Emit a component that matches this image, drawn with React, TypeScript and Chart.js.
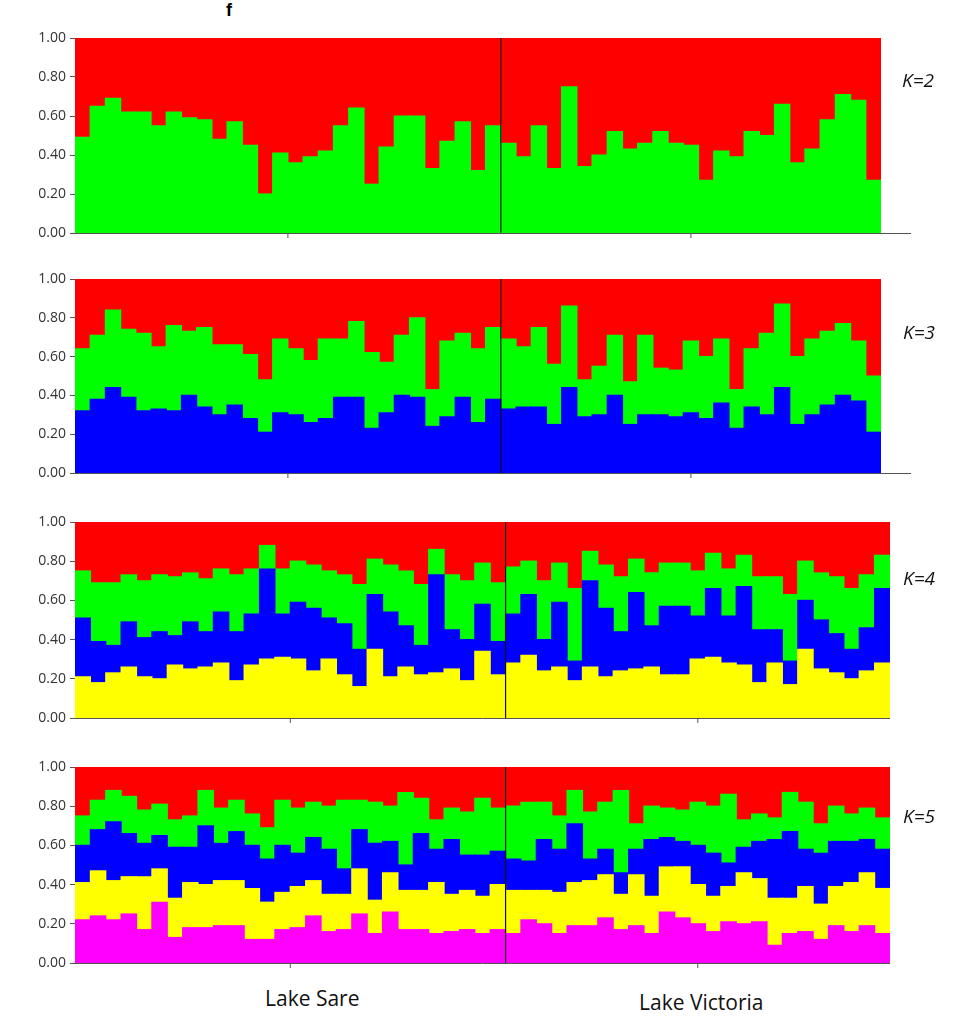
import React, { useEffect, useRef } from "react";
import { Chart, registerables } from "chart.js";
Chart.register(...registerables);

// Individuals: 28 from Lake Sare, 25 from Lake Victoria
const groupSizes = [28, 25];
const groupLabels = ["Lake Sare", "Lake Victoria"];
const yTicks = [0, 0.2, 0.4, 0.6, 0.8, 1.0];

// Cumulative boundaries (top of each colour layer)
const k2Green = [0.49,0.65,0.69,0.62,0.62,0.55,0.62,0.59,0.58,0.48,0.57,0.45,0.20,0.41,0.36,0.39,0.42,0.55,0.64,0.25,0.44,0.60,0.60,0.33,0.47,0.57,0.32,0.55,
  0.46,0.39,0.55,0.33,0.75,0.34,0.40,0.52,0.43,0.46,0.52,0.46,0.45,0.27,0.42,0.39,0.52,0.50,0.66,0.36,0.43,0.58,0.71,0.68,0.27];

const k3Blue = [0.32,0.38,0.44,0.39,0.32,0.33,0.32,0.40,0.34,0.30,0.35,0.28,0.21,0.31,0.30,0.26,0.28,0.39,0.39,0.23,0.31,0.40,0.39,0.24,0.29,0.39,0.26,0.38,
  0.33,0.34,0.34,0.25,0.44,0.29,0.30,0.40,0.25,0.30,0.30,0.29,0.31,0.28,0.36,0.23,0.34,0.30,0.44,0.25,0.30,0.35,0.40,0.37,0.21];
const k3Green = [0.64,0.71,0.84,0.74,0.72,0.65,0.76,0.73,0.75,0.66,0.66,0.61,0.48,0.69,0.64,0.58,0.69,0.69,0.78,0.62,0.57,0.71,0.80,0.43,0.68,0.72,0.64,0.75,
  0.69,0.65,0.75,0.56,0.86,0.48,0.55,0.71,0.47,0.71,0.54,0.53,0.68,0.60,0.69,0.43,0.64,0.72,0.87,0.60,0.69,0.73,0.77,0.68,0.50];

const k4Yellow = [0.21,0.18,0.23,0.26,0.21,0.20,0.27,0.25,0.26,0.28,0.19,0.27,0.30,0.31,0.30,0.24,0.30,0.22,0.16,0.35,0.21,0.26,0.22,0.23,0.25,0.19,0.34,0.22,
  0.28,0.32,0.24,0.26,0.19,0.26,0.21,0.24,0.25,0.26,0.22,0.22,0.30,0.31,0.28,0.27,0.18,0.28,0.17,0.35,0.25,0.23,0.20,0.24,0.28];
const k4Blue = [0.51,0.39,0.37,0.49,0.41,0.44,0.42,0.49,0.44,0.54,0.44,0.53,0.76,0.53,0.59,0.56,0.51,0.48,0.35,0.63,0.54,0.47,0.37,0.73,0.45,0.40,0.58,0.39,
  0.53,0.63,0.40,0.59,0.29,0.70,0.56,0.44,0.64,0.47,0.57,0.57,0.52,0.66,0.52,0.67,0.45,0.45,0.29,0.60,0.50,0.43,0.35,0.46,0.66];
const k4Green = [0.75,0.69,0.69,0.73,0.70,0.73,0.72,0.74,0.71,0.76,0.73,0.76,0.88,0.76,0.80,0.78,0.75,0.73,0.68,0.81,0.78,0.75,0.68,0.86,0.73,0.70,0.79,0.69,
  0.77,0.80,0.70,0.79,0.66,0.85,0.78,0.72,0.81,0.74,0.79,0.79,0.75,0.84,0.76,0.83,0.72,0.72,0.63,0.80,0.74,0.72,0.66,0.73,0.83];

const k5Magenta = [0.22,0.24,0.22,0.25,0.17,0.31,0.13,0.18,0.18,0.19,0.19,0.12,0.12,0.17,0.18,0.24,0.16,0.17,0.25,0.15,0.26,0.17,0.17,0.15,0.16,0.17,0.15,0.17,
  0.15,0.22,0.20,0.15,0.19,0.19,0.23,0.17,0.19,0.15,0.26,0.23,0.20,0.16,0.21,0.20,0.21,0.09,0.15,0.16,0.12,0.19,0.16,0.19,0.15];
const k5Yellow = [0.41,0.47,0.42,0.44,0.44,0.48,0.33,0.41,0.40,0.42,0.42,0.38,0.31,0.36,0.39,0.42,0.35,0.35,0.48,0.32,0.46,0.37,0.37,0.41,0.35,0.37,0.34,0.40,
  0.37,0.37,0.37,0.36,0.41,0.42,0.45,0.35,0.45,0.34,0.49,0.49,0.40,0.34,0.39,0.46,0.43,0.33,0.33,0.39,0.30,0.39,0.41,0.46,0.38];
const k5Blue = [0.60,0.68,0.72,0.66,0.61,0.65,0.59,0.59,0.70,0.61,0.67,0.60,0.53,0.60,0.56,0.64,0.58,0.48,0.68,0.61,0.62,0.50,0.66,0.58,0.63,0.55,0.55,0.57,
  0.53,0.52,0.63,0.58,0.71,0.53,0.58,0.46,0.58,0.63,0.64,0.62,0.60,0.56,0.51,0.59,0.62,0.63,0.67,0.58,0.56,0.62,0.62,0.63,0.58];
const k5Green = [0.75,0.83,0.88,0.85,0.78,0.81,0.73,0.75,0.88,0.79,0.83,0.76,0.69,0.83,0.79,0.82,0.80,0.83,0.83,0.82,0.80,0.87,0.84,0.73,0.79,0.77,0.84,0.79,
  0.80,0.82,0.82,0.75,0.88,0.77,0.82,0.88,0.71,0.80,0.79,0.78,0.82,0.80,0.86,0.73,0.76,0.74,0.87,0.82,0.71,0.80,0.76,0.79,0.74];

const RED = "#ff0000", GREEN = "#00ff00", BLUE = "#0000ff", YELLOW = "#ffff00", MAGENTA = "#ff00ff";

type Panel = { label: string; top: number; bottom: number; right: number; bounds: number[][]; colors: string[] };
const panels: Panel[] = [
  { label: "K=2", top: 38, bottom: 233, right: 881, bounds: [k2Green], colors: [GREEN, RED] },
  { label: "K=3", top: 279, bottom: 473, right: 881, bounds: [k3Blue, k3Green], colors: [BLUE, GREEN, RED] },
  { label: "K=4", top: 522, bottom: 718, right: 890, bounds: [k4Yellow, k4Blue, k4Green], colors: [YELLOW, BLUE, GREEN, RED] },
  { label: "K=5", top: 767, bottom: 963, right: 890, bounds: [k5Magenta, k5Yellow, k5Blue, k5Green], colors: [MAGENTA, YELLOW, BLUE, GREEN, RED] },
];

const PAD = 12;

function PanelChart({ p }: { p: Panel }) {
  const ref = useRef<HTMLCanvasElement>(null);
  useEffect(() => {
    const n = groupSizes[0] + groupSizes[1];
    const labels = Array.from({ length: n }, (_, i) => String(i + 1));
    const layers = [...p.bounds, labels.map(() => 1)];
    const datasets = layers.map((b, li) => ({
      data: b.map((v, i) => v - (li === 0 ? 0 : layers[li - 1][i])),
      backgroundColor: p.colors[li],
      borderWidth: 0,
      inflateAmount: 0.6,
      barPercentage: 1,
      categoryPercentage: 1,
      stack: "s",
    }));
    const overlay = {
      id: "overlay",
      afterDatasetsDraw(chart: any) {
        const { ctx, chartArea, scales } = chart;
        const x = scales.x;
        const g = groupSizes[0];
        const div = (x.getPixelForValue(g - 1) + x.getPixelForValue(g)) / 2;
        ctx.save();
        ctx.strokeStyle = "#111";
        ctx.lineWidth = 1.2;
        ctx.beginPath();
        ctx.moveTo(div, chartArea.top);
        ctx.lineTo(div, chartArea.bottom);
        ctx.stroke();
        ctx.strokeStyle = "#555";
        ctx.lineWidth = 1;
        ctx.beginPath();
        ctx.moveTo(chartArea.left, chartArea.bottom + 0.5);
        ctx.lineTo(chart.width, chartArea.bottom + 0.5);
        ctx.stroke();
        const c1 = (x.getPixelForValue(0) + x.getPixelForValue(g - 1)) / 2;
        const c2 = (x.getPixelForValue(g) + x.getPixelForValue(n - 1)) / 2;
        [c1, c2].forEach((c) => {
          ctx.beginPath();
          ctx.moveTo(c, chartArea.bottom);
          ctx.lineTo(c, chartArea.bottom + 5);
          ctx.stroke();
        });
        ctx.restore();
      },
    };
    const chart = new Chart(ref.current!, {
      type: "bar",
      data: { labels, datasets },
      plugins: [overlay],
      options: {
        animation: false,
        responsive: false,
        maintainAspectRatio: false,
        layout: { padding: { top: 0, bottom: 0, left: 0, right: p.label === "K=2" || p.label === "K=3" ? 30 : 0 } },
        plugins: { legend: { display: false }, tooltip: { enabled: false } },
        scales: {
          x: {
            stacked: true,
            offset: true,
            ticks: { display: false },
            grid: { display: false },
            border: { display: false },
            afterFit: (s: any) => { s.height = PAD; },
          },
          y: {
            stacked: true,
            min: 0,
            max: 1,
            afterBuildTicks: (s: any) => { s.ticks = yTicks.map((v) => ({ value: v })); },
            ticks: {
              callback: (v: any) => Number(v).toFixed(2),
              color: "#333",
              font: { family: "Open Sans", size: 14 },
              padding: 4,
            },
            grid: { drawOnChartArea: false, tickLength: 5, color: "#555" },
            border: { display: true, color: "#555" },
            afterFit: (s: any) => { s.width = 75; s.paddingTop = PAD; s.paddingBottom = 0; },
          },
        },
      },
    });
    return () => chart.destroy();
  }, [p]);
  const h = p.bottom - p.top + 2 * PAD;
  const w = p.right + (p.label === "K=2" || p.label === "K=3" ? 30 : 0);
  return (
    <canvas
      ref={ref}
      width={w}
      height={h}
      style={{ position: "absolute", left: 0, top: p.top - PAD, width: w, height: h }}
    />
  );
}

export default function App() {
  return (
    <div style={{ position: "absolute", left: 0, top: 0, width: 967, height: 1018, background: "#fff", fontFamily: "Open Sans, sans-serif" }}>
      <div style={{ position: "absolute", left: 226, top: 0, fontWeight: "bold", fontSize: 18, fontFamily: "Liberation Sans, Arial, sans-serif" }}>f</div>
      {panels.map((p) => (
        <PanelChart key={p.label} p={p} />
      ))}
      {panels.map((p, i) => (
        <div key={"l" + i} style={{ position: "absolute", left: [902, 903, 903, 903][i], top: [67, 319, 565, 803][i], fontStyle: "italic", fontSize: 19, color: "#111" }}>
          {p.label}
        </div>
      ))}
      <div style={{ position: "absolute", left: 265, top: 984, fontSize: 21, color: "#111" }}>{groupLabels[0]}</div>
      <div style={{ position: "absolute", left: 639, top: 988, fontSize: 21, color: "#111" }}>{groupLabels[1]}</div>
    </div>
  );
}
